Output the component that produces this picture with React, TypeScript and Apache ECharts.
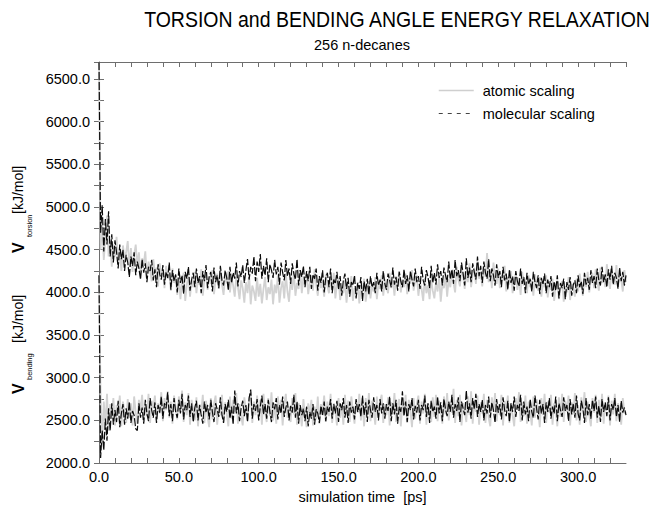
import React, { useEffect, useRef } from 'react';
import * as echarts from 'echarts';

// sampling step of the trajectories [ps]
const TIME_STEP_PS = 1;

// torsion energy, atomic scaling [kJ/mol], one value per ps from t = 0
const torsionAtomic = [
  6700, 4500, 4820, 4380, 4650, 4900, 4420, 4600, 4300, 4560,
  4420, 4650, 4330, 4500, 4250, 4550, 4380, 4470, 4600, 4300,
  4520, 4240, 4440, 4560, 4310, 4470, 4200, 4400, 4330, 4480,
  4180, 4360, 4260, 4130, 4390, 4220, 4290, 4070, 4340, 4190,
  4260, 4050, 4310, 4160, 4230, 4020, 4280, 4110, 4200, 3970,
  4180, 3920, 4120, 4230, 3900, 4090, 4210, 3950, 4140, 4060,
  4240, 3990, 4160, 4090, 4270, 3960, 4150, 4210, 4030, 4190,
  4100, 4260, 3980, 4140, 4220, 4040, 4280, 4090, 3970, 4200,
  4120, 4250, 4000, 4170, 4080, 3950, 4210, 4060, 3920, 4140,
  4050, 3880, 4120, 3990, 4200, 3860, 4080, 4010, 3900, 4170,
  3950, 4100, 3870, 4040, 4180, 3910, 4060, 3980, 4150, 3860,
  4090, 3990, 4200, 3880, 4050, 4130, 3930, 4220, 4010, 3890,
  4160, 4030, 4240, 3960, 4110, 4040, 4260, 3990, 4180, 4070,
  4230, 3980, 4120, 4200, 4020, 4270, 4090, 3960, 4180, 4050,
  4130, 3950, 4210, 4080, 3990, 4160, 4040, 4230, 3930, 4100,
  4170, 3910, 4060, 3990, 4140, 3880, 4090, 4020, 4190, 3900,
  4050, 3960, 4120, 3870, 4080, 4000, 4160, 3890, 4040, 4130,
  3930, 4090, 4010, 4180, 3920, 4110, 4040, 4200, 3960, 4150,
  4070, 3990, 4230, 4050, 4140, 3960, 4190, 4080, 4250, 4000,
  4150, 4060, 4220, 3980, 4170, 4100, 4260, 4020, 4130, 4200,
  3960, 4110, 4040, 3900, 4170, 3990, 4080, 3920, 4150, 4020,
  3930, 4120, 4010, 4180, 3890, 4100, 4050, 4210, 3950, 4160,
  4060, 4250, 4110, 4000, 4300, 4150, 4070, 4280, 4190, 4040,
  4240, 4120, 4340, 4060, 4210, 4290, 4100, 4370, 4160, 4230,
  4070, 4310, 4180, 4460, 4120, 4270, 4050, 4350, 4190, 4100,
  4280, 4050, 4200, 4140, 4310, 4010, 4180, 4090, 4250, 3990,
  4130, 4220, 4030, 4170, 3970, 4240, 4080, 4150, 3990, 4200,
  4060, 4140, 3960, 4210, 4090, 4020, 4180, 3950, 4120, 4060,
  4200, 3940, 4110, 4030, 4160, 3900, 4080, 4140, 3920, 4050,
  4130, 3890, 4070, 4000, 4180, 3910, 4100, 4050, 3950, 4160,
  4010, 4220, 4090, 3960, 4190, 4060, 4240, 4000, 4150, 4230,
  4050, 4270, 4130, 4020, 4290, 4110, 4200, 4060, 4330, 4140,
  4040, 4250, 4180, 4090, 4320, 4070, 4210, 4150, 4010, 4260,
  4120,
];

// torsion energy, molecular scaling [kJ/mol]
const torsionMolecular = [
  6700, 4700, 5020, 4480, 4860, 4560, 4950, 4420, 4680, 4350,
  4610, 4470, 4280, 4560, 4390, 4500, 4250, 4440, 4350, 4180,
  4420, 4310, 4470, 4200, 4360, 4280, 4150, 4390, 4230, 4340,
  4120, 4300, 4250, 4380, 4140, 4270, 4060, 4330, 4210, 4150,
  4320, 4090, 4240, 4170, 4350, 4030, 4260, 4130, 4210, 4000,
  4280, 4110, 4200, 3980, 4240, 4160, 4300, 4020, 4150, 4230,
  4060, 4280, 4110, 4190, 3990, 4250, 4130, 4320, 4050, 4180,
  4240, 4010, 4290, 4120, 4200, 4050, 4310, 4140, 4080, 4260,
  4170, 4020, 4300, 4110, 4230, 4160, 4350, 4070, 4250, 4180,
  4320, 4110, 4260, 4390, 4150, 4300, 4220, 4420, 4130, 4360,
  4240, 4450, 4160, 4310, 4200, 4400, 4120, 4330, 4260, 4170,
  4380, 4210, 4300, 4090, 4350, 4230, 4140, 4380, 4190, 4280,
  4100, 4340, 4220, 4150, 4390, 4080, 4260, 4180, 4310, 4060,
  4250, 4130, 4300, 4040, 4210, 4160, 4280, 4020, 4190, 4110,
  4260, 4000, 4170, 4230, 4060, 4280, 3990, 4150, 4100, 4240,
  4030, 4190, 3960, 4140, 4220, 4040, 4170, 3950, 4120, 4080,
  4200, 3930, 4110, 4040, 4180, 3900, 4130, 4010, 4160, 3970,
  4190, 4060, 4120, 3990, 4230, 4080, 4150, 4010, 4250, 4100,
  4030, 4220, 4140, 4060, 4290, 4090, 4180, 4020, 4240, 4130,
  4060, 4270, 4100, 4200, 4010, 4250, 4150, 4070, 4280, 4120,
  4190, 4040, 4300, 4140, 4080, 4260, 4180, 4050, 4310, 4110,
  4230, 4090, 4330, 4170, 4250, 4080, 4290, 4200, 4120, 4360,
  4150, 4270, 4100, 4380, 4190, 4260, 4130, 4350, 4220, 4080,
  4400, 4170, 4290, 4120, 4340, 4240, 4150, 4420, 4190, 4310,
  4110, 4360, 4230, 4160, 4390, 4130, 4280, 4200, 4080, 4330,
  4170, 4250, 4060, 4300, 4140, 4220, 4030, 4270, 4110, 4190,
  4020, 4250, 4130, 4070, 4280, 4100, 4180, 3990, 4230, 4090,
  4160, 4010, 4240, 4120, 4050, 4200, 3980, 4170, 4090, 4220,
  3990, 4150, 4060, 4190, 3950, 4130, 4020, 4200, 3930, 4110,
  4050, 4160, 3920, 4120, 4030, 4180, 3960, 4090, 4140, 3990,
  4200, 4060, 4130, 3980, 4230, 4090, 4170, 4030, 4260, 4110,
  4190, 4050, 4280, 4140, 4080, 4300, 4120, 4210, 4060, 4270,
  4150, 4310, 4090, 4230, 4170, 4040, 4290, 4130, 4240, 4080,
  4200,
];

// bending energy, atomic scaling [kJ/mol]
const bendingAtomic = [
  4200, 2780, 2240, 2720, 2420, 2810, 2380, 2690, 2520, 2760,
  2440, 2680, 2560, 2790, 2430, 2720, 2600, 2470, 2750, 2530,
  2700, 2440, 2780, 2590, 2460, 2740, 2620, 2800, 2480, 2690,
  2550, 2810, 2470, 2730, 2640, 2790, 2500, 2700, 2580, 2830,
  2490, 2760, 2620, 2840, 2530, 2720, 2460, 2790, 2650, 2510,
  2780, 2600, 2850, 2480, 2710, 2560, 2820, 2450, 2740, 2620,
  2500, 2770, 2430, 2690, 2590, 2800, 2470, 2730, 2540, 2420,
  2760, 2510, 2690, 2790, 2450, 2650, 2560, 2800, 2480, 2710,
  2580, 2430, 2780, 2520, 2740, 2600, 2820, 2460, 2690, 2550,
  2440, 2770, 2610, 2500, 2750, 2830, 2470, 2720, 2560, 2790,
  2520, 2740, 2450, 2810, 2600, 2480, 2760, 2550, 2830, 2500,
  2700, 2460, 2780, 2590, 2740, 2440, 2690, 2810, 2530, 2660,
  2480, 2760, 2570, 2820, 2450, 2700, 2610, 2430, 2750, 2540,
  2420, 2700, 2580, 2740, 2440, 2660, 2510, 2780, 2460, 2690,
  2600, 2790, 2480, 2720, 2550, 2810, 2470, 2700, 2620, 2440,
  2760, 2530, 2690, 2450, 2800, 2570, 2730, 2480, 2780, 2610,
  2460, 2740, 2590, 2810, 2500, 2700, 2430, 2760, 2560, 2820,
  2490, 2730, 2610, 2450, 2780, 2540, 2720, 2800, 2470, 2690,
  2560, 2770, 2440, 2710, 2600, 2820, 2480, 2680, 2750, 2430,
  2700, 2560, 2800, 2470, 2740, 2610, 2420, 2760, 2520, 2690,
  2790, 2460, 2720, 2580, 2810, 2450, 2700, 2630, 2480, 2770,
  2540, 2800, 2490, 2730, 2620, 2460, 2780, 2570, 2820, 2500,
  2710, 2590, 2870, 2470, 2740, 2550, 2800, 2440, 2700, 2620,
  2480, 2780, 2560, 2840, 2460, 2720, 2600, 2790, 2450, 2710,
  2580, 2810, 2470, 2740, 2530, 2430, 2770, 2600, 2820, 2490,
  2690, 2560, 2800, 2440, 2730, 2610, 2790, 2470, 2700, 2560,
  2430, 2760, 2620, 2830, 2480, 2710, 2550, 2790, 2460, 2720,
  2600, 2440, 2780, 2530, 2750, 2620, 2420, 2760, 2560, 2810,
  2470, 2720, 2590, 2800, 2450, 2700, 2630, 2430, 2770, 2540,
  2810, 2480, 2730, 2600, 2790, 2440, 2710, 2570, 2820, 2500,
  2680, 2450, 2770, 2610, 2830, 2480, 2720, 2560, 2430, 2760,
  2590, 2800, 2470, 2740, 2530, 2810, 2460, 2700, 2620, 2790,
  2440, 2730, 2570, 2810, 2490, 2700, 2620, 2450, 2760, 2580,
  2600,
];

// bending energy, molecular scaling [kJ/mol]
const bendingMolecular = [
  4200, 2060, 2380, 2150, 2520, 2260, 2640, 2380, 2700, 2450,
  2620, 2480, 2730, 2420, 2580, 2690, 2450, 2640, 2520, 2720,
  2470, 2610, 2560, 2400, 2380, 2700, 2530, 2650, 2460, 2740,
  2580, 2490, 2760, 2620, 2530, 2710, 2470, 2680, 2590, 2780,
  2520, 2700, 2640, 2830, 2550, 2690, 2490, 2760, 2600, 2530,
  2740, 2580, 2810, 2510, 2680, 2620, 2790, 2540, 2700, 2480,
  2650, 2730, 2500, 2680, 2560, 2460, 2720, 2590, 2680, 2510,
  2740, 2600, 2480, 2700, 2630, 2540, 2770, 2560, 2470, 2690,
  2600, 2740, 2520, 2660, 2450, 2850, 2580, 2700, 2490, 2640,
  2730, 2550, 2680, 2480, 2760, 2860, 2520, 2690, 2610, 2750,
  2500, 2660, 2790, 2570, 2690, 2520, 2740, 2600, 2480, 2710,
  2630, 2760, 2510, 2680, 2580, 2780, 2540, 2650, 2720, 2500,
  2670, 2590, 2800, 2530, 2720, 2460, 2680, 2560, 2640, 2490,
  2660, 2430, 2600, 2520, 2690, 2450, 2630, 2580, 2470, 2670,
  2550, 2720, 2490, 2660, 2600, 2750, 2520, 2690, 2580, 2730,
  2480, 2700, 2620, 2760, 2530, 2680, 2470, 2720, 2590, 2660,
  2510, 2750, 2600, 2690, 2540, 2790, 2560, 2710, 2480, 2740,
  2620, 2530, 2770, 2600, 2680, 2500, 2750, 2580, 2700, 2520,
  2690, 2610, 2780, 2490, 2700, 2570, 2740, 2460, 2660, 2600,
  2840, 2550, 2720, 2480, 2690, 2620, 2760, 2510, 2670, 2590,
  2740, 2500, 2680, 2620, 2790, 2540, 2700, 2470, 2730, 2600,
  2660, 2520, 2780, 2580, 2710, 2490, 2750, 2630, 2550, 2720,
  2600, 2800, 2530, 2690, 2610, 2770, 2480, 2720, 2640, 2560,
  2850, 2590, 2700, 2520, 2760, 2630, 2810, 2540, 2690, 2600,
  2740, 2500, 2680, 2580, 2780, 2530, 2710, 2620, 2470, 2750,
  2590, 2690, 2510, 2770, 2620, 2550, 2730, 2480, 2700, 2600,
  2780, 2540, 2680, 2610, 2800, 2500, 2720, 2570, 2660, 2490,
  2750, 2600, 2530, 2790, 2640, 2510, 2740, 2580, 2690, 2470,
  2710, 2600, 2760, 2520, 2660, 2580, 2780, 2490, 2700, 2620,
  2540, 2770, 2610, 2680, 2490, 2750, 2570, 2700, 2530, 2790,
  2580, 2500, 2730, 2640, 2470, 2760, 2560, 2690, 2520, 2740,
  2610, 2780, 2530, 2670, 2480, 2750, 2600, 2710, 2550, 2770,
  2500, 2690, 2620, 2760, 2540, 2680, 2480, 2730, 2590, 2650,
  2560,
];

// labelled ticks
const xTickLabels = [0, 50, 100, 150, 200, 250, 300];
const yTickLabels = [2000, 2500, 3000, 3500, 4000, 4500, 5000, 5500, 6000, 6500];

const FONT = "'Liberation Sans', Arial, Helvetica, sans-serif";
const AXIS_COLOR = '#6e6e6e';
const ATOMIC_COLOR = '#d2d2d2';
const MOLECULAR_COLOR = '#0a0a0a';

const toPairs = (vals: number[]) => vals.map((v, i) => [i * TIME_STEP_PS, v]);

export default function App() {
  const ref = useRef<HTMLDivElement>(null);

  useEffect(() => {
    if (!ref.current) return;
    const chart = echarts.init(ref.current, undefined, { renderer: 'svg' });

    const xCommon = {
      type: 'value',
      min: 0,
      max: 330,
      interval: 10,
      splitLine: { show: false },
      axisLine: { show: true, lineStyle: { color: AXIS_COLOR, width: 1 } },
      axisTick: { show: true, inside: true, length: 5, lineStyle: { color: AXIS_COLOR } },
    };
    const yCommon = {
      type: 'value',
      min: 2000,
      max: 6700,
      interval: 250,
      splitLine: { show: false },
      axisTick: { show: true, inside: true, length: 5, lineStyle: { color: AXIS_COLOR } },
    };

    const lineAtomic = { color: ATOMIC_COLOR, width: 1.8 };
    const lineMolecular = { color: MOLECULAR_COLOR, width: 1.2, type: [8, 2] };

    const option: any = {
      animation: false,
      grid: { left: 99, right: 31, top: 62, bottom: 45, containLabel: false },
      legend: {
        data: [
          { name: 'atomic scaling', lineStyle: { width: 1.5, color: '#cfcfcf', type: 'solid' } },
          { name: 'molecular scaling', lineStyle: { width: 1, color: '#444', type: [4, 5] } },
        ],
        orient: 'vertical',
        left: 433,
        top: 78,
        itemWidth: 35,
        itemHeight: 14,
        itemGap: 8,
        itemStyle: { opacity: 0 },
        textStyle: { fontSize: 14.5, color: '#000', fontFamily: FONT, padding: [0, 0, 0, 4] },
      },
      xAxis: [
        {
          ...xCommon,
          position: 'bottom',
          axisLabel: {
            show: true,
            margin: 6,
            fontSize: 14.5,
            color: '#000',
            fontFamily: FONT,
            showMaxLabel: false,
            formatter: (v: number) => (xTickLabels.includes(v) ? v.toFixed(1) : ''),
          },
        },
        { ...xCommon, position: 'top', axisLabel: { show: false } },
      ],
      yAxis: [
        {
          ...yCommon,
          position: 'left',
          axisLine: { show: false },
          axisLabel: {
            show: true,
            margin: 9,
            fontSize: 14.5,
            color: '#000',
            fontFamily: FONT,
            showMaxLabel: false,
            formatter: (v: number) => (yTickLabels.includes(v) ? v.toFixed(1) : ''),
          },
        },
        {
          ...yCommon,
          position: 'right',
          axisLine: { show: true, lineStyle: { color: AXIS_COLOR, width: 1 } },
          axisLabel: { show: false },
        },
      ],
      series: [
        {
          name: 'atomic scaling', type: 'line', xAxisIndex: 0, yAxisIndex: 0,
          data: toPairs(torsionAtomic), symbol: 'none', showSymbol: false, silent: true,
          lineStyle: lineAtomic, itemStyle: { color: ATOMIC_COLOR }, z: 2,
        },
        {
          name: 'atomic scaling', type: 'line', xAxisIndex: 0, yAxisIndex: 0,
          data: toPairs(bendingAtomic), symbol: 'none', showSymbol: false, silent: true,
          lineStyle: lineAtomic, itemStyle: { color: ATOMIC_COLOR }, z: 2,
        },
        {
          name: 'molecular scaling', type: 'line', xAxisIndex: 0, yAxisIndex: 0,
          data: toPairs(torsionMolecular), symbol: 'none', showSymbol: false, silent: true,
          lineStyle: lineMolecular, itemStyle: { color: MOLECULAR_COLOR }, z: 3,
        },
        {
          name: 'molecular scaling', type: 'line', xAxisIndex: 0, yAxisIndex: 0,
          data: toPairs(bendingMolecular), symbol: 'none', showSymbol: false, silent: true,
          lineStyle: lineMolecular, itemStyle: { color: MOLECULAR_COLOR }, z: 3,
        },
      ],
      graphic: [
        {
          type: 'text', x: 397, y: 19, scaleY: 1.15,
          style: { text: 'TORSION and BENDING ANGLE ENERGY RELAXATION', fontSize: 19.5, fontFamily: FONT, fill: '#000', align: 'center', verticalAlign: 'middle' },
        },
        {
          type: 'text', x: 362, y: 45,
          style: { text: '256 n-decanes', fontSize: 14.5, fontFamily: FONT, fill: '#000', align: 'center', verticalAlign: 'middle' },
        },
        {
          type: 'text', x: 362.5, y: 497,
          style: { text: 'simulation time  [ps]', fontSize: 14.5, fontFamily: FONT, fill: '#000', align: 'center', verticalAlign: 'middle' },
        },
        // torsion y label
        {
          type: 'text', x: 18, y: 253, rotation: Math.PI / 2,
          style: { text: 'V', fontSize: 16, fontWeight: 'bold', fontFamily: FONT, fill: '#000', align: 'left', verticalAlign: 'middle' },
        },
        {
          type: 'text', x: 29.5, y: 237, rotation: Math.PI / 2,
          style: { text: 'torsion', fontSize: 7.5, fontFamily: FONT, fill: '#000', align: 'left', verticalAlign: 'middle' },
        },
        {
          type: 'text', x: 18, y: 214, rotation: Math.PI / 2,
          style: { text: '[kJ/mol]', fontSize: 14, fontFamily: FONT, fill: '#000', align: 'left', verticalAlign: 'middle' },
        },
        // bending y label
        {
          type: 'text', x: 18, y: 394, rotation: Math.PI / 2,
          style: { text: 'V', fontSize: 16, fontWeight: 'bold', fontFamily: FONT, fill: '#000', align: 'left', verticalAlign: 'middle' },
        },
        {
          type: 'text', x: 29.5, y: 380, rotation: Math.PI / 2,
          style: { text: 'bending', fontSize: 7.5, fontFamily: FONT, fill: '#000', align: 'left', verticalAlign: 'middle' },
        },
        {
          type: 'text', x: 18, y: 343, rotation: Math.PI / 2,
          style: { text: '[kJ/mol]', fontSize: 14, fontFamily: FONT, fill: '#000', align: 'left', verticalAlign: 'middle' },
        },
      ],
    };

    chart.setOption(option);
    return () => chart.dispose();
  }, []);

  return (
    <div
      ref={ref}
      style={{ position: 'fixed', left: 0, top: 0, width: 657, height: 508, background: '#fff' }}
    />
  );
}
